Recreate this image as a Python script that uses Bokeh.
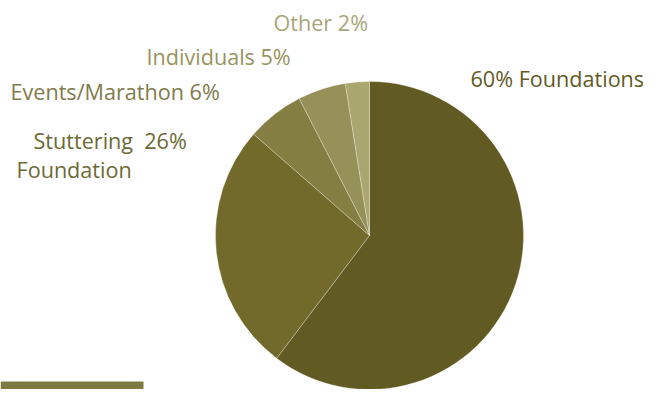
import math
from bokeh.plotting import figure
from bokeh.models import Range1d, ColumnDataSource
from bokeh.core.properties import value
from bokeh.embed import file_html
from bokeh.resources import INLINE

# ---- data ----
categories = ["Foundations", "Stuttering Foundation", "Events/Marathon", "Individuals", "Other"]
values = [60, 26, 6, 5, 2.5]   # slice sizes
slice_colors = ["#615a22", "#716a2b", "#847e42", "#969158", "#aaa670"]
label_texts = ["60% Foundations", "Other 2%", "Individuals 5%", "Events/Marathon 6%",
               "Stuttering\u00a0\u00a026%", "Foundation"]
label_colors = ["#5f5a26", "#a9a67a", "#979360", "#7f7b4a", "#6c6935", "#6c6935"]

W, H = 643, 389
p = figure(width=W, height=H, output_backend="svg", toolbar_location=None,
           x_range=Range1d(0, W), y_range=Range1d(0, H),
           x_axis_location=None, y_axis_location=None, min_border=0)
p.grid.visible = False
p.outline_line_color = None
p.background_fill_color = "white"
p.border_fill_color = "white"

# pie (clockwise from 12 o'clock)
total = sum(values)
starts, ends = [], []
acc = 0.0
for v in values:
    starts.append(math.pi / 2 - 2 * math.pi * acc / total)
    acc += v
    ends.append(math.pi / 2 - 2 * math.pi * acc / total)

src = ColumnDataSource(dict(cat=categories, val=values, start=starts, end=ends, color=slice_colors))
p.wedge(x=369, y=154, radius=154, start_angle="start", end_angle="end", direction="clock",
        fill_color="color", line_color="white", line_alpha=0.35, line_width=0.8, source=src)

# labels
lx = [470, 273, 146, 10, 33, 16]
ly = [311, 367, 333, 298, 249, 220]
lsrc = ColumnDataSource(dict(x=lx, y=ly, t=label_texts, c=label_colors))
p.text(x="x", y="y", text="t", text_color="c", text_font=value("Open Sans"),
       text_font_size="21.6px", text_align="left", text_baseline="alphabetic", source=lsrc)

# bottom-left bar
p.quad(left=0, right=143, bottom=0, top=8, fill_color="#7d7942", line_color=None)

open("out.html", "w").write(file_html(p, INLINE))
